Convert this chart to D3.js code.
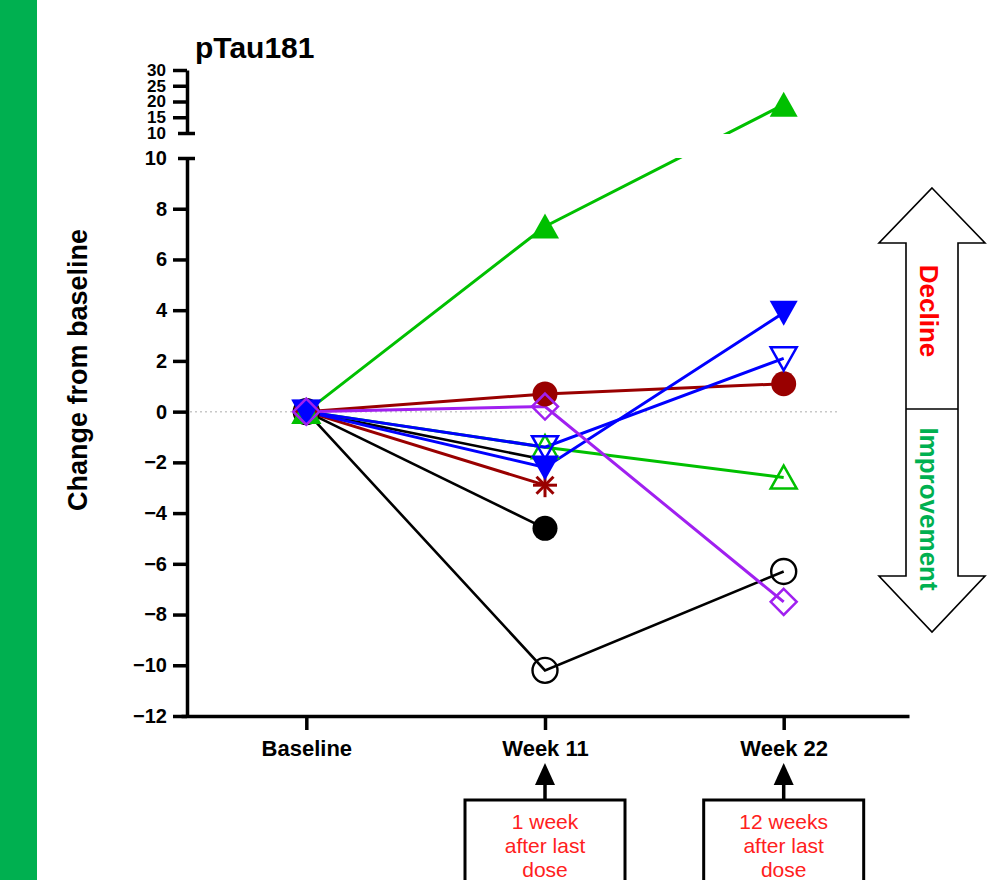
<!DOCTYPE html>
<html>
<head>
<meta charset="utf-8">
<script src="https://cdn.jsdelivr.net/npm/d3@7"></script>
<style>
  html, body { margin: 0; padding: 0; background: #fff; }
  svg text { font-family: "Liberation Sans", Arial, sans-serif; }
</style>
</head>
<body>
<div id="chart"></div>
<script>
"use strict"

// ---- data ----
const timepoints = ["Baseline", "Week 11", "Week 22"];
const yTicksLower = [-12, -10, -8, -6, -4, -2, 0, 2, 4, 6, 8, 10];
const yTicksUpper = [10, 15, 20, 25, 30];

const blackOpenCircle   = [0, -10.2, -6.3];
const blackFilledCircle = [0, -4.6, null];
const blackNoMarker     = [0, -1.9, null];
const redAsterisk       = [0, -2.9, null];
const redFilledCircle   = [0, 0.7, 1.1];
const greenOpenTri      = [0, -1.4, -2.6];
const greenFilledTri    = [0, 7.3, 19.0];
const blueOpenTri       = [0, -1.4, 2.1];
const blueFilledTri     = [0, -2.2, 3.9];
const purpleDiamond     = [0, 0.2, -7.5];

const boxNotes = [
  { at: "Week 11", lines: ["1 week", "after last", "dose"] },
  { at: "Week 22", lines: ["12 weeks", "after last", "dose"] }
];

// series table (drawing order = stacking order)
const series = [
  { values: blackOpenCircle,   color: "#000000", shape: "circleOpen" },
  { values: blackFilledCircle, color: "#000000", shape: "circleFilled" },
  { values: blackNoMarker,     color: "#000000", shape: "none" },
  { values: redAsterisk,       color: "#990000", shape: "asterisk" },
  { values: redFilledCircle,   color: "#990000", shape: "circleFilled" },
  { values: greenOpenTri,      color: "#00c000", shape: "triUpOpen" },
  { values: greenFilledTri,    color: "#00c000", shape: "triUpFilled" },
  { values: blueOpenTri,       color: "#0000ff", shape: "triDownOpen" },
  { values: blueFilledTri,     color: "#0000ff", shape: "triDownFilled" },
  { values: purpleDiamond,     color: "#a020f0", shape: "diamondOpen" }
];

const width = 998, height = 880;

const svg = d3.select("#chart").append("svg")
    .attr("width", width)
    .attr("height", height);

// green band on the left
svg.append("rect")
    .attr("x", 0).attr("y", 0)
    .attr("width", 37).attr("height", height)
    .style("fill", "#00b050");

// scales (broken y axis: lower and upper segment)
let x = d3.scalePoint()
    .domain(timepoints)
    .range([181, 909])
    .padding(0.525);

let yLow = d3.scaleLinear().domain([-12, 10]).range([716, 158]);
let yHigh = d3.scaleLinear().domain([10, 30]).range([133, 70]);

function yPos(v) {
    return v <= 10 ? yLow(v) : yHigh(v);
}

const axisX = 187;

// clip for lines so they vanish in the axis gap
let defs = svg.append("defs");
let clip = defs.append("clipPath").attr("id", "brk");
clip.append("rect").attr("x", 0).attr("y", 0).attr("width", width).attr("height", yHigh(10) + 1);
clip.append("rect").attr("x", 0).attr("y", yLow(10)).attr("width", width).attr("height", height);

// zero reference line
svg.append("line")
    .attr("x1", axisX + 3).attr("x2", 838)
    .attr("y1", yLow(0)).attr("y2", yLow(0))
    .style("stroke", "#c8c8c8")
    .style("stroke-width", "1.5px")
    .style("stroke-dasharray", "2,3");

// y axes
function styleAxis(g, fontSize) {
    g.select(".domain").style("stroke", "black").style("stroke-width", "3.5px");
    g.selectAll(".tick line").style("stroke", "black").style("stroke-width", "3.5px");
    g.selectAll(".tick text")
        .style("font-size", fontSize)
        .style("font-weight", "bold")
        .style("fill", "black");
}

let gLow = svg.append("g")
    .attr("transform", `translate(${axisX},0)`)
    .call(d3.axisLeft(yLow).tickValues(yTicksLower).tickSize(14).tickSizeOuter(0).tickPadding(6));
styleAxis(gLow, "20px");

let gHigh = svg.append("g")
    .attr("transform", `translate(${axisX},0)`)
    .call(d3.axisLeft(yHigh).tickValues(yTicksUpper).tickSize(14).tickSizeOuter(0).tickPadding(7));
styleAxis(gHigh, "17px");

// break marks at the 10 ticks
[gLow, gHigh].forEach(function(g) {
    g.selectAll(".tick").filter(d => d === 10).select("line")
        .attr("x1", 8).attr("x2", -9);
});

// x axis
let gX = svg.append("g")
    .attr("transform", `translate(0,${yLow(-12)})`)
    .call(d3.axisBottom(x).tickSize(14).tickSizeOuter(0).tickPadding(10));
gX.select(".domain").style("stroke", "black").style("stroke-width", "3.5px");
gX.selectAll(".tick line").style("stroke", "black").style("stroke-width", "3.5px");
gX.selectAll(".tick text")
    .style("font-size", "22px")
    .style("font-weight", "bold")
    .style("fill", "black");

// title and axis title
svg.append("text")
    .attr("x", 195).attr("y", 58)
    .style("font-size", "30px")
    .style("font-weight", "bold")
    .text("pTau181");

svg.append("text")
    .attr("transform", "translate(87,370) rotate(-90)")
    .style("text-anchor", "middle")
    .style("font-size", "27px")
    .style("font-weight", "bold")
    .text("Change from baseline");

// series lines
let linesG = svg.append("g").attr("clip-path", "url(#brk)");
let line = d3.line()
    .defined(d => d.v !== null)
    .x(d => x(d.t))
    .y(d => yPos(d.v));

for (let s of series) {
    let pts = s.values.map((v, i) => ({ t: timepoints[i], v: v }));
    linesG.append("path")
        .datum(pts)
        .attr("d", line)
        .style("fill", "none")
        .style("stroke", s.color)
        .style("stroke-width", s.color === "#000000" ? "2.6px" : "3px");
}

// markers
function drawMarker(g, shape, cx, cy, color) {
    let m = g.append("g").attr("transform", `translate(${cx},${cy})`);
    if (shape === "circleFilled") {
        m.append("circle").attr("r", 12.5).style("fill", color);
    } else if (shape === "circleOpen") {
        m.append("circle").attr("r", 12.5)
            .style("fill", "none").style("stroke", color).style("stroke-width", "2.4px");
    } else if (shape === "triUpFilled") {
        m.append("path").attr("d", "M0,-13 L14,12 L-14,12 Z").style("fill", color);
    } else if (shape === "triUpOpen") {
        m.append("path").attr("d", "M0,-12 L13,11 L-13,11 Z")
            .style("fill", "none").style("stroke", color).style("stroke-width", "2.5px");
    } else if (shape === "triDownFilled") {
        m.append("path").attr("d", "M0,13 L14,-12 L-14,-12 Z").style("fill", color);
    } else if (shape === "triDownOpen") {
        m.append("path").attr("d", "M0,12 L13,-11 L-13,-11 Z")
            .style("fill", "none").style("stroke", color).style("stroke-width", "2.5px");
    } else if (shape === "diamondOpen") {
        m.append("path").attr("d", "M0,-13 L13,0 L0,13 L-13,0 Z")
            .style("fill", "none").style("stroke", color).style("stroke-width", "2.5px");
    } else if (shape === "asterisk") {
        let r = 12, d = 8.5;
        [[0, -r, 0, r], [-r, 0, r, 0], [-d, -d, d, d], [-d, d, d, -d]].forEach(function(l) {
            m.append("line")
                .attr("x1", l[0]).attr("y1", l[1]).attr("x2", l[2]).attr("y2", l[3])
                .style("stroke", color).style("stroke-width", "3px");
        });
    }
}

let markG = svg.append("g");
for (let s of series) {
    if (s.shape === "none") continue;
    s.values.forEach(function(v, i) {
        if (v === null) return;
        drawMarker(markG, s.shape, x(timepoints[i]), yPos(v), s.color);
    });
}

// double arrow on the right
let arrowPts = [[932,188],[985,243],[958,243],[958,576],[985,576],[932,632],[879,576],[906,576],[906,243],[879,243]];
svg.append("polygon")
    .attr("points", arrowPts.map(p => p.join(",")).join(" "))
    .style("fill", "white")
    .style("stroke", "black")
    .style("stroke-width", "1.6px");
svg.append("line")
    .attr("x1", 906).attr("x2", 958).attr("y1", 409).attr("y2", 409)
    .style("stroke", "black").style("stroke-width", "1.6px");

svg.append("text")
    .attr("transform", "translate(920,311) rotate(90)")
    .style("text-anchor", "middle")
    .style("font-size", "26px")
    .style("font-weight", "bold")
    .style("fill", "#ff0000")
    .text("Decline");

svg.append("text")
    .attr("transform", "translate(920,509) rotate(90)")
    .style("text-anchor", "middle")
    .style("font-size", "26px")
    .style("font-weight", "bold")
    .style("fill", "#00b050")
    .text("Improvement");

// note boxes under week 11 / week 22
for (let note of boxNotes) {
    let cx = x(note.at);
    svg.append("rect")
        .attr("x", cx - 80).attr("y", 800)
        .attr("width", 160).attr("height", 120)
        .style("fill", "white")
        .style("stroke", "black")
        .style("stroke-width", "3px");
    svg.append("line")
        .attr("x1", cx).attr("x2", cx).attr("y1", 800).attr("y2", 783)
        .style("stroke", "black").style("stroke-width", "3.5px");
    svg.append("path")
        .attr("d", `M${cx},763 L${cx + 10},785 L${cx - 10},785 Z`)
        .style("fill", "black");
    note.lines.forEach(function(t, i) {
        svg.append("text")
            .attr("x", cx).attr("y", 829 + i * 24)
            .style("text-anchor", "middle")
            .style("font-size", "21px")
            .style("fill", "#ff2020")
            .text(t);
    });
}
</script>
</body>
</html>
